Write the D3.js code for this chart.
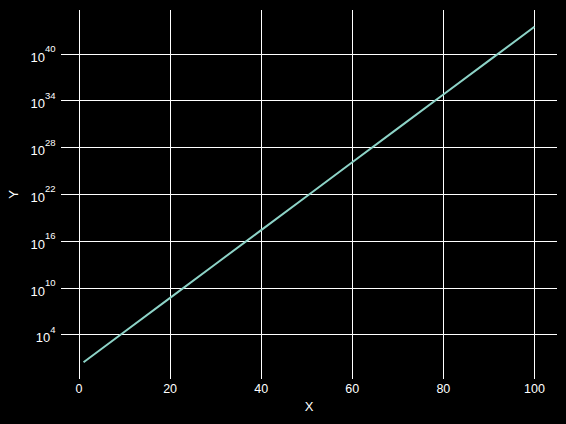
<!DOCTYPE html>
<html lang="en">
<head>
<meta charset="UTF-8">
<title>Exponential growth</title>
<script src="https://d3js.org/d3.v7.min.js"></script>
<style>
    body { margin: 0; padding: 0; background: #000; }
    svg { display: block; font-family: "Liberation Sans", Arial, sans-serif; }
    .grid line { stroke: #fff; stroke-width: 1; shape-rendering: crispEdges; }
    .tick-label { fill: #fff; font-size: 12.5px; }
    .axis-title { fill: #fff; font-size: 13px; }
</style>
</head>
<body>
<div id="chart"></div>
<script>
    // data (straight line on a log axis)
    const xValues = [1, 10, 20, 30, 40, 50, 60, 70, 80, 90, 100];
    const yValues = [2.72, 2.2e4, 4.85e8, 1.07e13, 2.35e17, 5.18e21, 1.14e26, 2.52e30, 5.54e34, 1.22e39, 2.69e43];
    const xTicks = [0, 20, 40, 60, 80, 100];
    const yTickExponents = [4, 10, 16, 22, 28, 34, 40];

    const W = 566, H = 424;
    const plot = { left: 61, right: 557, top: 10, bottom: 379 };

    const svg = d3.select("#chart").append("svg")
        .attr("width", W)
        .attr("height", H);

    svg.append("rect").attr("width", W).attr("height", H).attr("fill", "#000");

    // 5% padding around the data, like the original
    const xMin = d3.min(xValues), xMax = d3.max(xValues);
    const xPad = (xMax - xMin) * 0.05;
    const x = d3.scaleLinear()
        .domain([xMin - xPad, xMax + xPad])
        .range([plot.left, plot.right]);

    const lyMin = Math.log10(d3.min(yValues)), lyMax = Math.log10(d3.max(yValues));
    const lyPad = (lyMax - lyMin) * 0.05;
    const y = d3.scaleLog()
        .domain([Math.pow(10, lyMin - lyPad), Math.pow(10, lyMax + lyPad)])
        .range([plot.bottom, plot.top]);

    const grid = svg.append("g").attr("class", "grid");

    grid.selectAll(".vx")
        .data(xTicks)
        .enter().append("line")
        .attr("x1", d => Math.round(x(d)) + 0.5)
        .attr("x2", d => Math.round(x(d)) + 0.5)
        .attr("y1", plot.top)
        .attr("y2", plot.bottom);

    grid.selectAll(".hy")
        .data(yTickExponents)
        .enter().append("line")
        .attr("x1", plot.left)
        .attr("x2", plot.right)
        .attr("y1", d => Math.round(y(Math.pow(10, d))) + 0.5)
        .attr("y2", d => Math.round(y(Math.pow(10, d))) + 0.5);

    // x tick labels
    svg.selectAll(".xlab")
        .data(xTicks)
        .enter().append("text")
        .attr("class", "tick-label")
        .attr("x", d => x(d))
        .attr("y", plot.bottom + 14)
        .attr("text-anchor", "middle")
        .text(d => d);

    // y tick labels: 10 with superscript exponent
    const ylab = svg.selectAll(".ylab")
        .data(yTickExponents)
        .enter().append("text")
        .attr("class", "tick-label")
        .attr("x", plot.left - 5.5)
        .attr("y", d => y(Math.pow(10, d)) + 8)
        .attr("text-anchor", "end");
    ylab.append("tspan").attr("font-size", "13px").text("10");
    ylab.append("tspan")
        .attr("dy", -9.5)
        .attr("font-size", "9.5px")
        .text(d => d);

    // line
    const line = d3.line()
        .x((d, i) => x(xValues[i]))
        .y(d => y(d));

    svg.append("path")
        .datum(yValues)
        .attr("fill", "none")
        .attr("stroke", "#8dd3c7")
        .attr("stroke-width", 2)
        .attr("d", line);

    // axis titles
    svg.append("text")
        .attr("class", "axis-title")
        .attr("x", (plot.left + plot.right) / 2)
        .attr("y", 411)
        .attr("text-anchor", "middle")
        .text("X");

    svg.append("text")
        .attr("class", "axis-title")
        .attr("transform", `translate(18,${(plot.top + plot.bottom) / 2}) rotate(-90)`)
        .attr("text-anchor", "middle")
        .text("Y");
</script>
</body>
</html>
